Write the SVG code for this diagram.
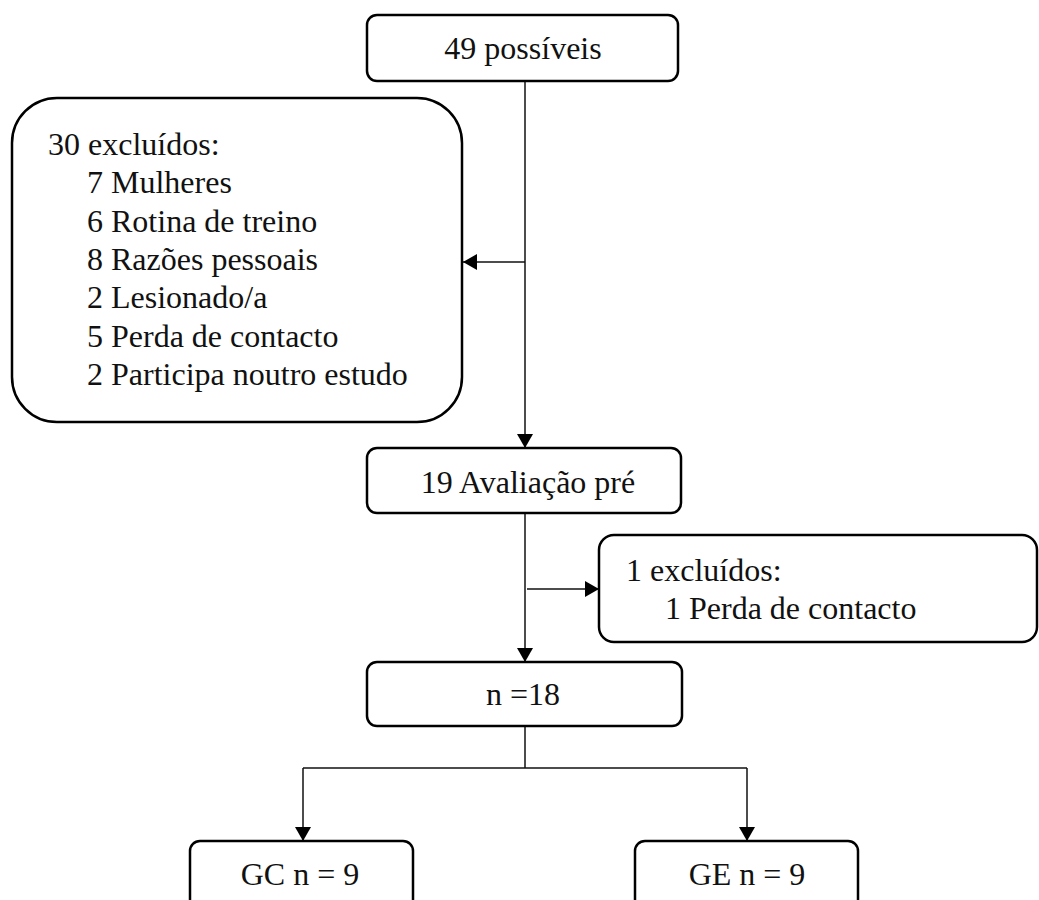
<svg xmlns="http://www.w3.org/2000/svg" width="1039" height="900" viewBox="0 0 1039 900">
<style>
.box{fill:#fff;stroke:#000;stroke-width:2.5}
.t{font-family:"Liberation Serif","Times New Roman",serif;font-size:32px;fill:#111}
.c{text-anchor:middle}
.ln{fill:none;stroke:#111;stroke-width:1.5}
</style>
<defs>
<marker id="ah" markerUnits="userSpaceOnUse" markerWidth="14" markerHeight="16" refX="14" refY="8" orient="auto">
<path d="M0,0 L14,8 L0,16 Z" fill="#000"/>
</marker>
</defs>
<rect width="1039" height="900" fill="#fff"/>
<g id="connectors">
<path class="ln" d="M525,81 V448" marker-end="url(#ah)"/>
<path class="ln" d="M525,262 H463" marker-end="url(#ah)"/>
<path class="ln" d="M525,513 V662" marker-end="url(#ah)"/>
<path class="ln" d="M527,589 H599" marker-end="url(#ah)"/>
<path class="ln" d="M525,726 V768"/>
<path class="ln" d="M303,768 H747"/>
<path class="ln" d="M303,768 V841" marker-end="url(#ah)"/>
<path class="ln" d="M747,768 V841" marker-end="url(#ah)"/>
</g>
<g id="n-possiveis">
<rect class="box" x="367" y="15" width="311" height="66" rx="10"/>
<text class="t c" x="523" y="59">49 possíveis</text>
</g>
<g id="n-excluidos30">
<rect class="box" x="12" y="98" width="450" height="324" rx="45"/>
<text class="t" x="48" y="155">30 excluídos:</text>
<text class="t" x="87" y="193">7 Mulheres</text>
<text class="t" x="87" y="232">6 Rotina de treino</text>
<text class="t" x="87" y="270">8 Razões pessoais</text>
<text class="t" x="87" y="308">2 Lesionado/a</text>
<text class="t" x="87" y="347">5 Perda de contacto</text>
<text class="t" x="87" y="385">2 Participa noutro estudo</text>
</g>
<g id="n-avaliacao">
<rect class="box" x="367" y="448" width="314" height="65" rx="10"/>
<text class="t c" x="528" y="493">19 Avaliação pré</text>
</g>
<g id="n-excluidos1">
<rect class="box" x="599" y="535" width="438" height="107" rx="15"/>
<text class="t" x="626" y="581">1 excluídos:</text>
<text class="t" x="665" y="619">1 Perda de contacto</text>
</g>
<g id="n-18">
<rect class="box" x="367" y="662" width="315" height="64" rx="10"/>
<text class="t c" x="523" y="705">n =18</text>
</g>
<g id="n-gc">
<rect class="box" x="190" y="841" width="223" height="90" rx="10"/>
<text class="t c" x="300" y="885">GC n = 9</text>
</g>
<g id="n-ge">
<rect class="box" x="635" y="841" width="223" height="90" rx="10"/>
<text class="t c" x="747" y="885">GE n = 9</text>
</g>
</svg>
